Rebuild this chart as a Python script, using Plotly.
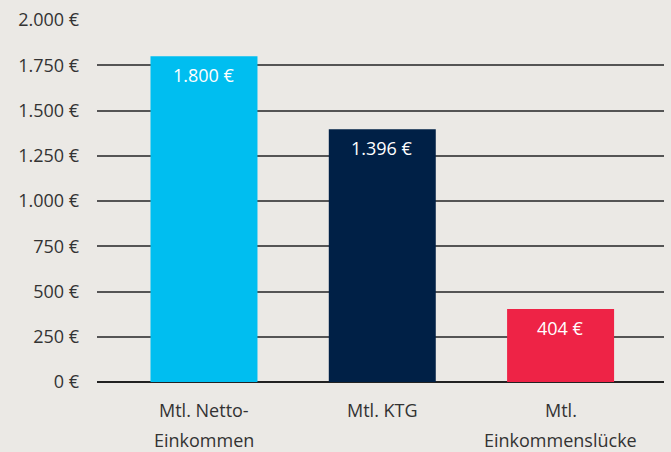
import plotly.graph_objects as go

label_line1 = ["Mtl. Netto-", "Mtl. KTG", "Mtl."]
label_line2 = ["Einkommen", "", "Einkommenslücke"]
categories = [a + b for a, b in zip(label_line1, label_line2)]
values = [1800, 1396, 404]
colors = ["#00BEF0", "#002046", "#EE2346"]
y_ticks = [0, 250, 500, 750, 1000, 1250, 1500, 1750, 2000]

FONT = "Open Sans"
TXT = "#333333"
FS = 18

def de_fmt(v):
    return f"{v:,.0f}".replace(",", ".") + " €"

fig = go.Figure(
    go.Bar(
        x=categories,
        y=values,
        marker=dict(color=colors, line=dict(width=0)),
        width=0.6,
        hoverinfo="skip",
    )
)

annotations = []
for c, v in zip(categories, values):
    annotations.append(dict(x=c, y=v, xref="x", yref="y", text=de_fmt(v), showarrow=False,
                            yanchor="middle", yshift=-19,
                            font=dict(family=FONT, size=FS, color="white")))
for c, l1, l2 in zip(categories, label_line1, label_line2):
    annotations.append(dict(x=c, y=0, xref="x", yref="y", text=l1, showarrow=False,
                            yanchor="middle", yshift=-28,
                            font=dict(family=FONT, size=FS, color=TXT)))
    if l2:
        annotations.append(dict(x=c, y=0, xref="x", yref="y", text=l2, showarrow=False,
                                yanchor="middle", yshift=-58,
                                font=dict(family=FONT, size=FS, color=TXT)))

fig.update_layout(
    width=671, height=452,
    margin=dict(l=97, r=7, t=17, b=70),
    paper_bgcolor="#EBE9E5",
    plot_bgcolor="#EBE9E5",
    showlegend=False,
    separators=",.",
    font=dict(family=FONT, size=FS, color=TXT),
    annotations=annotations,
    xaxis=dict(type="category", range=[-0.6, 2.58], showticklabels=False,
               showgrid=False, zeroline=False, showline=False, ticks=""),
    yaxis=dict(range=[0, 2000], tickvals=y_ticks, ticktext=[de_fmt(t) for t in y_ticks],
               showgrid=True, gridcolor="#555555", gridwidth=1.5,
               zeroline=True, zerolinecolor="#222222", zerolinewidth=1.5,
               showline=False, ticks="", ticklabelstandoff=17,
               tickfont=dict(family=FONT, size=FS, color=TXT)),
)

fig.write_html("out.html", config={"displayModeBar": False},
               post_script="document.body.style.margin='0';document.body.style.background='#EBE9E5';")
